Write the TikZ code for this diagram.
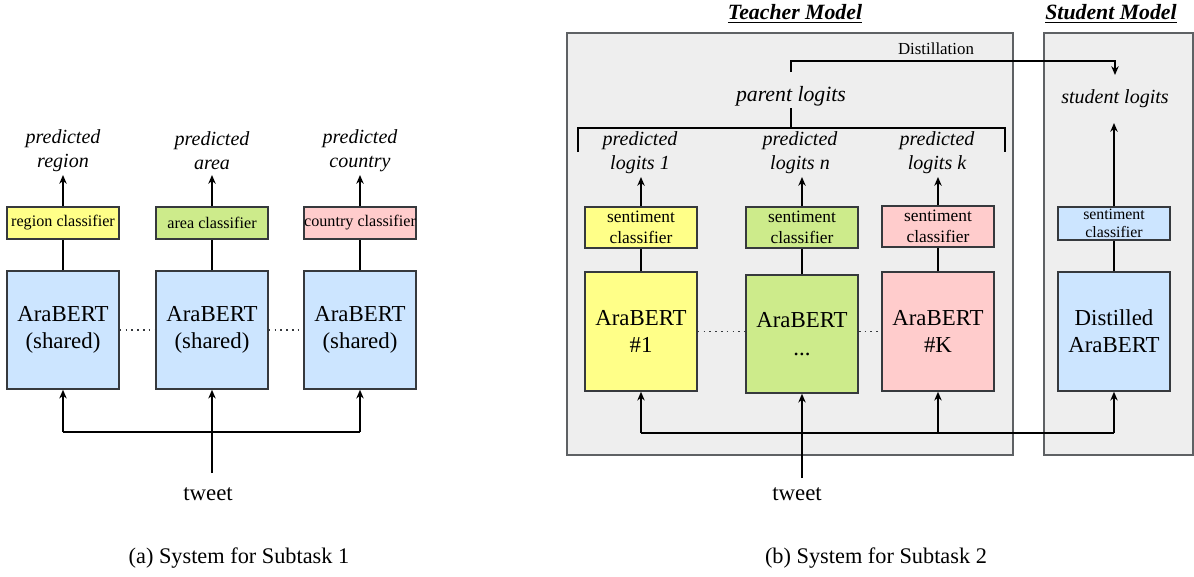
\documentclass[tikz,border=0pt]{standalone}
\usepackage{fontspec}
\setmainfont{LiberationSerif}[Extension=.ttf,UprightFont=*-Regular,BoldFont=*-Bold,ItalicFont=*-Italic,BoldItalicFont=*-BoldItalic]
\usetikzlibrary{arrows.meta}
\definecolor{cyel}{HTML}{FFFF88}
\definecolor{cgrn}{HTML}{CDEB8B}
\definecolor{cpnk}{HTML}{FFCCCC}
\definecolor{cblu}{HTML}{CCE5FF}
\definecolor{cbg}{HTML}{EEEEEE}
\definecolor{cbd}{HTML}{36393D}
\begin{document}
\begin{tikzpicture}[x=0.02cm,y=-0.02cm,
  box/.style={draw=cbd,line width=0.85pt,inner sep=0pt,align=center},
  bert/.style={box,minimum width=2.24cm,minimum height=2.36cm,font=\fontsize{13}{15.5}\selectfont},
  cls/.style={box,minimum width=2.24cm,minimum height=0.64cm,font=\fontsize{9.2}{10}\selectfont},
  scls/.style={box,minimum width=2.24cm,minimum height=0.82cm,font=\fontsize{9.9}{12}\selectfont},
  bgbox/.style={draw=cbd!80,fill=cbg,line width=0.85pt,inner sep=0pt},
  lbl/.style={align=center,font=\fontsize{11.4}{13.6}\selectfont\itshape,inner sep=0pt},
  txt/.style={inner sep=0pt,font=\fontsize{13}{15}\selectfont},
  captxt/.style={inner sep=0pt,font=\fontsize{12.7}{15}\selectfont},
  ttl/.style={inner sep=0pt,font=\fontsize{12.4}{14}\selectfont\bfseries\itshape},
  conn/.style={line width=1.1pt},
  arr/.style={conn,-{Stealth[length=5pt,width=4.2pt]}},
  dots/.style={line width=1pt,dash pattern=on 1pt off 2.3pt,draw=cbd}]
\useasboundingbox (0,0) rectangle (1194,576);

% ---------------- (a) ----------------
\node[cls,fill=cyel] (rc) at (63,223) {region classifier};
\node[cls,fill=cgrn] (ac) at (212,223) {area classifier};
\node[cls,fill=cpnk] (cc) at (360,223) {country classifier};
\node[bert,fill=cblu] (b1) at (63,330) {AraBERT\\(shared)};
\node[bert,fill=cblu] (b2) at (212,330) {AraBERT\\(shared)};
\node[bert,fill=cblu] (b3) at (360,330) {AraBERT\\(shared)};
\node[lbl] (pr) at (63,151) {predicted\\region};
\node[lbl] (pa) at (212,151) {predicted\\area};
\node[lbl] (pc) at (360,151) {predicted\\country};
\coordinate (ra) at (63,175);
\coordinate (aa) at (212,175);
\coordinate (ca) at (360,175);
\draw[arr] (rc.north) -- (ra);
\draw[arr] (ac.north) -- (aa);
\draw[arr] (cc.north) -- (ca);
\draw[conn] (b1.north) -- (rc.south);
\draw[conn] (b2.north) -- (ac.south);
\draw[conn] (b3.north) -- (cc.south);
\draw[dots] (b1.east) -- (b2.west);
\draw[dots] (b2.east) -- (b3.west);
\coordinate (hl) at (63,432);
\coordinate (hr) at (360,432);
\draw[conn] (hl) -- (hr);
\draw[arr] (hl) -- (b1.south);
\draw[arr] (hr) -- (b3.south);
\node[txt] (tw1) at (208,494) {tweet};
\coordinate (tw1s) at (212,473);
\draw[arr] (tw1s) -- (b2.south);
\node[captxt] (capa) at (239,558) {(a) System for Subtask 1};

% ---------------- (b) ----------------
\node[bgbox,minimum width=8.92cm,minimum height=8.44cm] (teacher) at (790,244) {};
\node[bgbox,minimum width=2.98cm,minimum height=8.44cm] (student) at (1118.5,244) {};
\node[ttl] (tt) at (795,14) {\underline{Teacher Model}};
\node[ttl] (st) at (1111,14) {\underline{Student Model}};
\node[inner sep=0pt,font=\fontsize{9.6}{11}\selectfont] (dist) at (936,49) {Distillation};
\node[lbl,font=\fontsize{12.4}{14}\selectfont\itshape] (pl) at (791,96) {parent logits};
\node[lbl] (sl) at (1115,99) {student logits};
\coordinate (d0) at (791,72);
\coordinate (d1) at (1115,61);
\coordinate (d2) at (1115,75);
\draw[arr] (d0) |- (d1) -- (d2);
\coordinate (p0) at (791,108);
\coordinate (p1) at (791,128);
\draw[conn] (p0) -- (p1);
\coordinate (bl) at (578,152);
\coordinate (br) at (1005,152);
\draw[conn] (bl) |- (p1) -| (br);

\node[lbl] (l1) at (640,153) {predicted\\logits 1};
\node[lbl] (ln) at (800,153) {predicted\\logits \textit{n}};
\node[lbl] (lk) at (937,153) {predicted\\logits \textit{k}};
\node[scls,fill=cyel] (s1) at (641,227.5) {sentiment\\classifier};
\node[scls,fill=cgrn] (s2) at (802,227.5) {sentiment\\classifier};
\node[scls,fill=cpnk] (s3) at (938,226.5) {sentiment\\classifier};
\node[box,fill=cblu,minimum width=2.24cm,minimum height=0.66cm,font=\fontsize{9}{10.2}\selectfont] (ss) at (1114,223.5) {sentiment\\classifier};
\coordinate (a1) at (641,177);
\coordinate (an) at (802,177);
\coordinate (ak) at (938,177);
\coordinate (as) at (1114,123);
\draw[arr] (s1.north) -- (a1);
\draw[arr] (s2.north) -- (an);
\draw[arr] (s3.north) -- (ak);
\draw[arr] (ss.north) -- (as);

\node[bert,fill=cyel,minimum height=2.38cm] (t1) at (641,331.5) {AraBERT\\\#1};
\node[bert,fill=cgrn] (t2) at (802,334) {AraBERT\\...};
\node[bert,fill=cpnk,minimum height=2.38cm] (t3) at (938,331.5) {AraBERT\\\#K};
\node[bert,fill=cblu,minimum height=2.38cm] (ds) at (1114,331.5) {Distilled\\AraBERT};
\draw[conn] (t1.north) -- (s1.south);
\draw[conn] (t2.north) -- (s2.south);
\draw[conn] (t3.north) -- (s3.south);
\draw[conn] (ds.north) -- (ss.south);
\draw[dots] (t1.east) -- (t2.west |- t1.east);
\draw[dots] (t2.east |- t3.west) -- (t3.west);

\coordinate (q1) at (641,433);
\coordinate (q3) at (938,433);
\coordinate (qs) at (1114,433);
\draw[conn] (q1) -- (q3);
\draw[line width=0.8pt] (q3) -- (qs);
\draw[arr] (q1) -- (t1.south);
\draw[arr] (q3) -- (t3.south);
\draw[line width=0.8pt,-{Stealth[length=5pt,width=4.2pt]}] (qs) -- (ds.south);
\node[txt] (tw2) at (797,494) {tweet};
\coordinate (tw2s) at (802,478);
\draw[arr] (tw2s) -- (t2.south);
\node[captxt] (capb) at (876,558) {(b) System for Subtask 2};
\end{tikzpicture}
\end{document}
